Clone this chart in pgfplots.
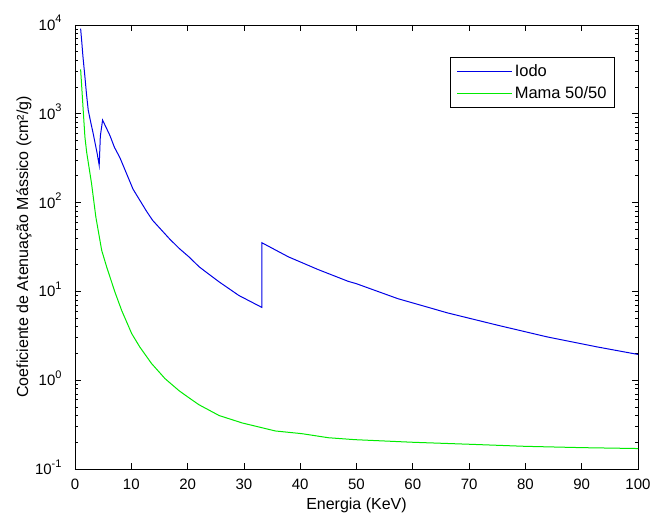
\documentclass[border=0pt]{standalone}
\usepackage{fontspec}
\setmainfont{Liberation Sans}
\usepackage{pgfplots}
\pgfplotsset{compat=1.18}
\newcommand\tp[1]{10\raisebox{0.5em}{\fontsize{11}{12}\selectfont #1}}
\begin{document}
\begin{tikzpicture}
\useasboundingbox (-75pt,-50pt) rectangle (578pt,469pt);
\begin{axis}[
  scale only axis,
  width=563pt, height=444pt,
  xmin=0, xmax=100,
  ymode=log, ymin=0.1, ymax=10000,
  xtick={0,10,...,100},
  ytick={0.1,1,10,100,1000,10000},
  yticklabels={\tp{-1},\tp{0},\tp{1},\tp{2},\tp{3},\tp{4}},
  /pgf/number format/assume math mode=true,
  font=\fontsize{16}{19}\selectfont,
  tick label style={font=\fontsize{15}{18}\selectfont},
  xticklabel style={yshift=-6pt},
  yticklabel style={anchor=base east, yshift=-5.5pt, xshift=-10pt},
  major tick length=6pt, minor tick length=3.5pt,
  axis line style={line width=0.8pt},
  every tick/.style={black, line width=0.8pt},
  xlabel={Energia (KeV)},
  ylabel={Coeficiente de Atenuação Mássico (cm²/g)},
  xlabel style={at={(axis description cs:0.5,-0.0811)}, anchor=center},
  ylabel style={at={(axis description cs:-0.0906,0.5)}, anchor=center, rotate=0},
  legend style={at={(0.959,0.928)}, anchor=north east, draw=black, line width=0.8pt,
    font=\fontsize{16.5}{19}\selectfont, legend cell align=left,
    inner xsep=6pt, inner ysep=5pt, row sep=5pt},
  legend image code/.code={\draw[#1] (0pt,0pt) -- (55pt,0pt);},
]
\addplot[color={rgb,255:red,0;green,0;blue,230}, line width=1pt] coordinates {
(1.0,9100) (1.2,6500) (1.4,4500) (1.76,2620) (2.05,1650) (2.35,1100) (2.8,800) (3.23,600) (3.94,357) (4.3,263)
(4.5,560) (4.9,850) (6.2,570) (7.0,420) (8.0,318) (9.0,224) (10.3,142)
(12.7,80) (13.8,63) (16.8,39) (18.5,30.5) (20.2,24.6) (22.1,18.8) (25.6,12.8)
(29.1,9.0) (33.2,6.6) (33.2,35.3) (37.9,24.5) (43.2,17.6) (48.5,13.0) (50,12.2)
(57.3,8.3) (66.2,5.72) (75,4.17) (83.8,3.08) (92.6,2.38) (100,1.95)
};
\addlegendentry{Iodo}
\addplot[color={rgb,255:red,0;green,235;blue,0}, line width=1pt] coordinates {
(1.0,3160) (1.35,1410) (1.76,550) (2.07,370) (2.94,164) (3.7,69) (4.74,29)
(5.63,18.8) (7.1,9.8) (8.29,6.1) (10.07,3.35) (11.5,2.37) (13.6,1.54) (16.0,1.04)
(18.5,0.76) (20,0.65) (22,0.53) (25.6,0.40) (29.7,0.33) (35.6,0.268) (40.3,0.25)
(45,0.225) (49.7,0.214) (60,0.20) (70,0.19) (80,0.18) (90,0.174) (100,0.17)
};
\addlegendentry{Mama 50/50}
\end{axis}
\end{tikzpicture}
\end{document}
